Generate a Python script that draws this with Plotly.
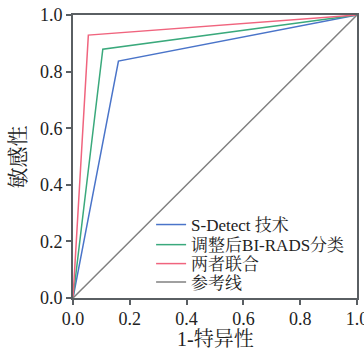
import plotly.graph_objects as go

names = ["S-Detect 技术", "调整后BI-RADS分类", "两者联合", "参考线"]
colors = ["#4a74c9", "#3aa97c", "#f0647e", "#808080"]
fpr_sdetect = [0.0, 0.16, 1.0]
tpr_sdetect = [0.0, 0.837, 1.0]
fpr_birads = [0.0, 0.105, 1.0]
tpr_birads = [0.0, 0.879, 1.0]
fpr_comb = [0.0, 0.054, 1.0]
tpr_comb = [0.0, 0.929, 1.0]
fpr_ref = [0.0, 1.0]
tpr_ref = [0.0, 1.0]
tick_vals = [0.0, 0.2, 0.4, 0.6, 0.8, 1.0]
tick_text = ["0.0", "0.2", "0.4", "0.6", "0.8", "1.0"]
x_title = "1-特异性"
y_title = "敏感性"

font_family = "'Liberation Serif', 'Times New Roman', 'Noto Serif CJK SC', 'Noto Sans CJK SC', serif"

fig = go.Figure()
series = [(fpr_sdetect, tpr_sdetect), (fpr_birads, tpr_birads), (fpr_comb, tpr_comb), (fpr_ref, tpr_ref)]
legend_ids = ["legend", "legend2", "legend3", "legend4"]
for (x, y), n, c, lg in zip(series, names, colors, legend_ids):
    fig.add_trace(go.Scatter(x=x, y=y, mode="lines", name=n, legend=lg,
                             showlegend=True, line=dict(color=c, width=1.5)))

axis_common = dict(
    range=[0, 1], tickvals=tick_vals, ticktext=tick_text,
    showgrid=False, zeroline=False, showline=True, mirror=True,
    linecolor="#5a5f63", linewidth=2, ticks="outside", ticklen=5,
    tickwidth=1.5, tickcolor="#5a5f63", automargin=False,
    ticklabeloverflow="allow",
    tickfont=dict(size=18, color="#222", family=font_family),
)

legend_rows = [0.258, 0.187, 0.120, 0.055]
legend_style = dict(x=0.275, xanchor="left", yanchor="middle",
                    bgcolor="rgba(255,255,255,0)",
                    font=dict(size=17, color="#222", family=font_family),
                    itemwidth=30, visible=True)

fig.update_layout(
    width=364, height=350,
    margin=dict(l=73, r=7, t=15, b=52),
    paper_bgcolor="white", plot_bgcolor="white",
    font=dict(family=font_family, color="#222"),
    showlegend=True,
    xaxis=dict(**axis_common, ticklabelstandoff=-2),
    yaxis=dict(**axis_common),
    legend=dict(y=legend_rows[0], **legend_style),
    legend2=dict(y=legend_rows[1], **legend_style),
    legend3=dict(y=legend_rows[2], **legend_style),
    legend4=dict(y=legend_rows[3], **legend_style),
    annotations=[
        dict(text=x_title, xref="paper", yref="paper", x=0.5, y=-0.145,
             xanchor="center", yanchor="middle", showarrow=False,
             font=dict(size=20, color="#222", family=font_family)),
        dict(text=y_title, xref="paper", yref="paper", x=-0.194, y=0.5,
             xanchor="center", yanchor="middle", showarrow=False, textangle=-90,
             font=dict(size=21, color="#222", family=font_family)),
    ],
)
fig.write_html("out.html", config={"displayModeBar": False},
               post_script="document.body.style.margin='0px';")
